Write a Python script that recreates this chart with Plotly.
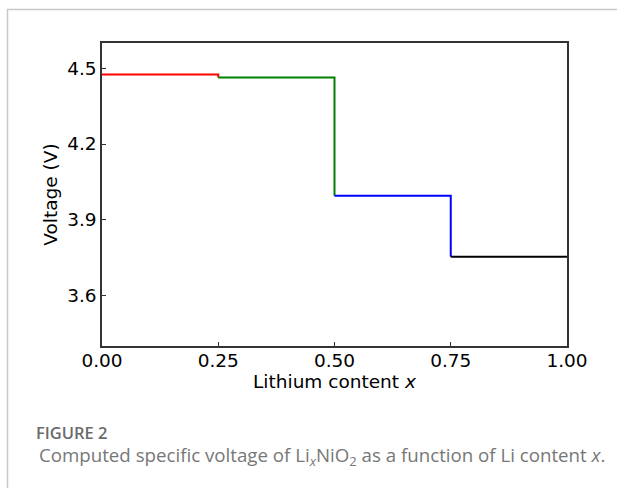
import plotly.graph_objects as go

# Data
x_edges = [0.0, 0.25, 0.5, 0.75, 1.0]
voltages = [4.475, 4.463, 3.995, 3.753]
colors = ["red", "green", "blue", "black"]
x_ticks = [0.0, 0.25, 0.5, 0.75, 1.0]
x_tick_labels = ["0.00", "0.25", "0.50", "0.75", "1.00"]
y_ticks = [3.6, 3.9, 4.2, 4.5]
y_tick_labels = ["3.6", "3.9", "4.2", "4.5"]

fig = go.Figure()
n = len(voltages)
for i in range(n):
    xs = [x_edges[i], x_edges[i + 1]]
    ys = [voltages[i], voltages[i]]
    if i < n - 1:
        xs.append(x_edges[i + 1])
        ys.append(voltages[i + 1])
    fig.add_trace(go.Scatter(x=xs, y=ys, mode="lines",
                             line=dict(color=colors[i], width=2),
                             showlegend=False, hoverinfo="skip"))

FAM = "DejaVu Sans, Bitstream Vera Sans, Verdana, sans-serif"
tick_font = dict(family=FAM, size=18.5, color="black")
axis_common = dict(showline=True, linecolor="#333333", linewidth=1.5, mirror=True,
                   ticks="inside", ticklen=4, tickwidth=1, tickcolor="#333333",
                   showgrid=False, zeroline=False, tickfont=tick_font)

fig.update_xaxes(range=[0, 1], tickvals=x_ticks, ticktext=x_tick_labels,
                 ticklabelstandoff=-3,
                 title=dict(text="Lithium content <i>x</i>", standoff=3,
                            font=dict(family=FAM, size=18.5, color="black")),
                 **axis_common)
fig.update_yaxes(range=[3.4, 4.6], tickvals=y_ticks, ticktext=y_tick_labels,
                 title=dict(text="Voltage (V)", standoff=5,
                            font=dict(family=FAM, size=18.5, color="black")),
                 **axis_common)

# pixel -> paper helpers
L, R, T, B = 102, 567, 43, 346
def px(x):
    return (x - L) / (R - L)
def py(y):
    return (B - y) / (B - T)

fig.add_shape(type="path", xref="paper", yref="paper",
              path=f"M {px(7.5)} {py(488)} L {px(7.5)} {py(9.5)} L {px(617)} {py(9.5)}",
              line=dict(color="#c8c8c8", width=1.5))

fig.add_annotation(xref="paper", yref="paper", x=px(34), y=py(432),
                   xanchor="left", yanchor="middle", showarrow=False,
                   text="FIGURE 2",
                   font=dict(family="Open Sans", size=16.5, color="#6b6b6b", weight=600))
fig.add_annotation(xref="paper", yref="paper", x=px(37), y=py(456),
                   xanchor="left", yanchor="middle", showarrow=False,
                   text="Computed specific voltage of Li<sub><i>x</i></sub>NiO<sub>2</sub> as a function of Li content <i>x</i>.",
                   font=dict(family="Open Sans", size=18.7, color="#777777"))

fig.update_layout(width=617, height=488,
                  margin=dict(l=L, r=617 - R, t=T, b=488 - B),
                  paper_bgcolor="white", plot_bgcolor="white")

fig.write_html("out.html")
